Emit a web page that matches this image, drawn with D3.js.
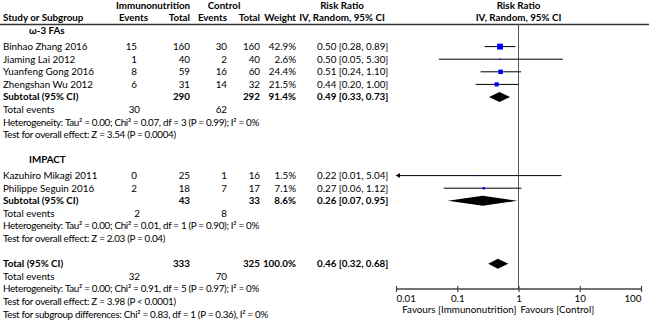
<!DOCTYPE html>
<html>
<head>
<meta charset="utf-8">
<script src="https://cdn.jsdelivr.net/npm/d3@7"></script>
<style>
  body { margin: 0; background: #fff; }
  svg text { font-family: Lato, "Liberation Sans", Arial, sans-serif; font-size: 9.8px; fill: #000; }
  .b { font-weight: bold; }
  .note { letter-spacing: -0.3px; }
</style>
</head>
<body>
<svg id="chart"></svg>
<script>
// study level data
const groupNames = ["ω-3 FAs", "IMPACT"];
const studyGroup = [0, 0, 0, 0, 1, 1];
const studies = ["Binhao Zhang 2016", "Jiaming Lai 2012", "Yuanfeng Gong 2016", "Zhengshan Wu 2012",
                 "Kazuhiro Mikagi 2011", "Philippe Seguin 2016"];
const expEvents = [15, 1, 8, 6, 0, 2];
const expTotal = [160, 40, 59, 31, 25, 18];
const ctlEvents = [30, 2, 16, 14, 1, 7];
const ctlTotal = [160, 40, 60, 32, 16, 17];
const weights = [42.9, 2.6, 24.4, 21.5, 1.5, 7.1];
const rr = [0.50, 0.50, 0.51, 0.44, 0.22, 0.27];
const rrLow = [0.28, 0.05, 0.24, 0.20, 0.01, 0.06];
const rrHigh = [0.89, 5.30, 1.10, 1.00, 5.04, 1.12];

// subgroup summaries
const subExpTotal = [290, 43];
const subCtlTotal = [292, 33];
const subWeight = [91.4, 8.6];
const subRR = [0.49, 0.26];
const subLow = [0.33, 0.07];
const subHigh = [0.73, 0.95];
const subExpEvents = [30, 2];
const subCtlEvents = [62, 8];
const subTau2 = ["0.00", "0.00"];
const subChi2 = ["0.07", "0.01"];
const subDf = [3, 1];
const subHetP = ["0.99", "0.90"];
const subI2 = [0, 0];
const subZ = ["3.54", "2.03"];
const subZP = ["= 0.0004", "= 0.04"];

// overall
const totExpTotal = 333, totCtlTotal = 325, totWeight = 100.0;
const totRR = 0.46, totLow = 0.32, totHigh = 0.68;
const totExpEvents = 32, totCtlEvents = 70;
const totHet = "Heterogeneity: Tau² = 0.00; Chi² = 0.91, df = 5 (P = 0.97); I² = 0%";
const totEffect = "Test for overall effect: Z = 3.98 (P < 0.0001)";
const subDiff = "Test for subgroup differences: Chi² = 0.83, df = 1 (P = 0.36), I² = 0%";

const axisTicks = [0.01, 0.1, 1, 10, 100];

const W = 650, H = 323;
const svg = d3.select("#chart").attr("width", W).attr("height", H);

const f2 = d3.format(".2f");
const ciText = (m, l, h) => `${f2(m)} [${f2(l)}, ${f2(h)}]`;

// build rows
const rows = [];
groupNames.forEach((g, gi) => {
  rows.push({type: "group", label: g});
  studies.forEach((s, i) => {
    if (studyGroup[i] !== gi) return;
    rows.push({type: "study", label: s, ee: expEvents[i], et: expTotal[i], ce: ctlEvents[i], ct: ctlTotal[i],
               w: weights[i], m: rr[i], l: rrLow[i], h: rrHigh[i]});
  });
  rows.push({type: "sub", label: "Subtotal (95% CI)", et: subExpTotal[gi], ct: subCtlTotal[gi], w: subWeight[gi],
             m: subRR[gi], l: subLow[gi], h: subHigh[gi]});
  rows.push({type: "events", label: "Total events", ee: subExpEvents[gi], ce: subCtlEvents[gi]});
  rows.push({type: "note", label: `Heterogeneity: Tau² = ${subTau2[gi]}; Chi² = ${subChi2[gi]}, df = ${subDf[gi]} (P = ${subHetP[gi]}); I² = ${subI2[gi]}%`});
  rows.push({type: "note", label: `Test for overall effect: Z = ${subZ[gi]} (P ${subZP[gi]})`});
  rows.push({type: "blank"});
});
rows.push({type: "sub", label: "Total (95% CI)", et: totExpTotal, ct: totCtlTotal, w: totWeight,
           m: totRR, l: totLow, h: totHigh});
rows.push({type: "events", label: "Total events", ee: totExpEvents, ce: totCtlEvents});
rows.push({type: "note", label: totHet});
rows.push({type: "note", label: totEffect});
rows.push({type: "note", label: subDiff});

// row positions: a little extra space below each subgroup title
const yBase = d3.scaleLinear().domain([0, 1]).range([31, 43.6]);
let groupsSeen = 0;
rows.forEach((r, i) => {
  r.y = yBase(i) + 3 * groupsSeen;
  if (r.type === "group") groupsSeen++;
});

const x = d3.scaleLog().domain([0.01, 100]).range([396, 641]);
const axisY = 289;

// column positions (right edges)
const col = {ee: 137, et: 190, ce: 227, ct: 260, w: 296, ci: 317};

// headers
const hdr = svg.append("g").attr("class", "b");
hdr.append("text").attr("x", 153).attr("y", 9).attr("text-anchor", "middle").text("Immunonutrition");
hdr.append("text").attr("x", 224).attr("y", 9).attr("text-anchor", "middle").text("Control");
hdr.append("text").attr("x", 342).attr("y", 9).attr("text-anchor", "middle").text("Risk Ratio");
hdr.append("text").attr("x", x(1)).attr("y", 9).attr("text-anchor", "middle").text("Risk Ratio");
hdr.append("text").attr("x", 3).attr("y", 21).text("Study or Subgroup");
hdr.append("text").attr("x", 148).attr("y", 21).attr("text-anchor", "end").text("Events");
hdr.append("text").attr("x", col.et).attr("y", 21).attr("text-anchor", "end").text("Total");
hdr.append("text").attr("x", col.ce).attr("y", 21).attr("text-anchor", "end").text("Events");
hdr.append("text").attr("x", col.ct).attr("y", 21).attr("text-anchor", "end").text("Total");
hdr.append("text").attr("x", col.w).attr("y", 21).attr("text-anchor", "end").text("Weight");
hdr.append("text").attr("x", 342).attr("y", 21).attr("text-anchor", "middle").text("IV, Random, 95% CI");
hdr.append("text").attr("x", x(1)).attr("y", 21).attr("text-anchor", "middle").text("IV, Random, 95% CI");

svg.append("line").attr("x1", 0).attr("x2", 649).attr("y1", 24.5).attr("y2", 24.5)
  .attr("stroke", "#333").attr("stroke-width", 1.5);

// null line
svg.append("line").attr("x1", x(1)).attr("x2", x(1)).attr("y1", 24).attr("y2", axisY)
  .attr("stroke", "#555").attr("stroke-width", 1);

// rows
const g = svg.append("g");
rows.forEach(r => {
  const yc = r.y;
  if (r.type === "blank") return;
  const bold = r.type === "group" || r.type === "sub";
  const tx = (xx, txt, anchor) => g.append("text").attr("x", xx).attr("y", yc).attr("dy", "0.35em")
      .attr("text-anchor", anchor || "end").classed("b", bold).text(txt);
  tx(r.type === "group" ? 29 : 3, r.label, "start").classed("note", r.type === "note");
  if (r.type === "study") {
    tx(col.ee, r.ee); tx(col.et, r.et); tx(col.ce, r.ce); tx(col.ct, r.ct);
    tx(col.w, r.w.toFixed(1) + "%");
    tx(col.ci, ciText(r.m, r.l, r.h), "start");
    g.append("line").attr("x1", x(r.l)).attr("x2", x(r.h)).attr("y1", yc).attr("y2", yc)
      .attr("stroke", "#000").attr("stroke-width", 1);
    if (r.l <= x.domain()[0]) {
      const ax = x(x.domain()[0]);
      g.append("path").attr("d", `M${ax},${yc}L${ax + 4},${yc - 2.5}L${ax + 4},${yc + 2.5}Z`).attr("fill", "#000");
    }
    const s = 0.9 * Math.sqrt(r.w);
    g.append("rect").attr("x", x(r.m) - s / 2).attr("y", yc - s / 2).attr("width", s).attr("height", s)
      .attr("fill", "#0000ff");
  } else if (r.type === "sub") {
    tx(col.et, r.et); tx(col.ct, r.ct);
    tx(col.w, r.w.toFixed(1) + "%");
    tx(col.ci, ciText(r.m, r.l, r.h), "start");
    const hh = 5;
    g.append("path")
      .attr("d", `M${x(r.l)},${yc}L${x(r.m)},${yc - hh}L${x(r.h)},${yc}L${x(r.m)},${yc + hh}Z`)
      .attr("fill", "#000");
  } else if (r.type === "events") {
    tx(140, r.ee); tx(col.ce, r.ce);
  }
});

// axis
const axis = d3.axisBottom(x).tickValues(axisTicks).tickFormat(d => String(d)).tickSize(3).tickPadding(3);
const ag = svg.append("g").attr("transform", `translate(0,${axisY})`).call(axis);
ag.select(".domain").attr("stroke", "#444").attr("stroke-width", 1.5).attr("d", `M${x(0.01)},0H${x(100)}`);
ag.selectAll(".tick line").attr("y1", -3).attr("y2", 3).attr("stroke", "#444").attr("stroke-width", 1.2);
ag.selectAll(".tick text").attr("fill", "#000").style("font-family", "Lato, sans-serif").style("font-size", "9.8px")
  .attr("text-anchor", (d, i) => i === 0 ? "start" : (i === axisTicks.length - 1 ? "end" : "middle"));
svg.append("text").attr("x", x(1) - 2).attr("y", axisY + 21).attr("dy", "0.35em").attr("text-anchor", "end")
  .text("Favours [Immunonutrition]");
svg.append("text").attr("x", x(1) + 2).attr("y", axisY + 21).attr("dy", "0.35em").attr("text-anchor", "start")
  .text("Favours [Control]");
</script>
</body>
</html>
